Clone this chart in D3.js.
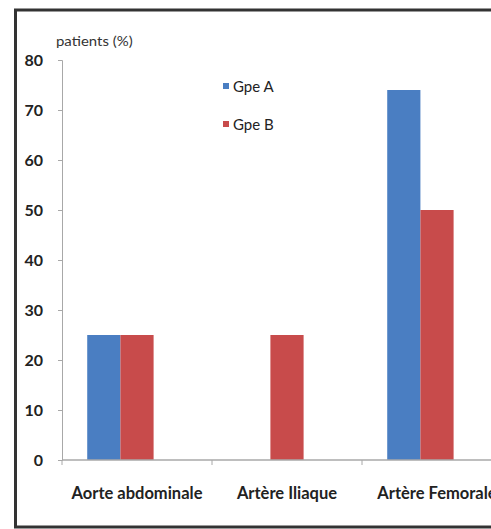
<!DOCTYPE html>
<html>
<head>
<meta charset="utf-8">
<script src="https://cdn.jsdelivr.net/npm/d3@7"></script>
<style>
  html, body { margin: 0; padding: 0; background: #fff; }
  svg { display: block; }
</style>
</head>
<body>
<svg id="chart" width="491" height="529"></svg>
<script>
// ---- data ----
const categories = ["Aorte abdominale", "Artère Iliaque", "Artère Femorale"];
const seriesNames = ["Gpe A", "Gpe B", "Gpe C"];
const gpeA = [25, 0, 74];
const gpeB = [25, 25, 50];
const gpeC = [null, null, null]; // empty third slot in the original chart
const yTicks = [0, 10, 20, 30, 40, 50, 60, 70, 80];
const yLabel = "patients (%)";
const legendNames = ["Gpe A", "Gpe B"];
const colors = { "Gpe A": "#4a7ec2", "Gpe B": "#c84b4b", "Gpe C": "#9bbb59" };

const seriesValues = { "Gpe A": gpeA, "Gpe B": gpeB, "Gpe C": gpeC };

const svg = d3.select("#chart");
const font = "Lato, 'Open Sans', sans-serif";

// outer frame
svg.append("rect")
  .attr("x", 15.5).attr("y", 10).attr("width", 520).attr("height", 517)
  .attr("fill", "#fff").attr("stroke", "#333").attr("stroke-width", 3);

const plot = { left: 62, top: 60, right: 512, bottom: 460 };

const x0 = d3.scaleBand().domain(categories).range([plot.left, plot.right]).paddingInner(0).paddingOuter(0);
const x1 = d3.scaleBand().domain(seriesNames).range([0, x0.bandwidth()]).paddingOuter(0.76).paddingInner(0);
const y = d3.scaleLinear().domain([0, 80]).range([plot.bottom, plot.top]);

// bars
const g = svg.append("g");
categories.forEach((c, i) => {
  seriesNames.forEach(s => {
    const v = seriesValues[s][i];
    if (v == null || v === 0) return;
    g.append("rect")
      .attr("x", x0(c) + x1(s))
      .attr("y", y(v))
      .attr("width", x1.bandwidth())
      .attr("height", y(0) - y(v))
      .attr("fill", colors[s]);
  });
});

// y axis
const yAxis = d3.axisLeft(y).tickValues(yTicks).tickSize(4).tickPadding(10);
const ya = svg.append("g").attr("transform", `translate(${plot.left},0)`).call(yAxis);
ya.select(".domain").attr("stroke", "#a8a8a8");
ya.selectAll(".tick line").attr("stroke", "#a8a8a8");
ya.selectAll(".tick text")
  .attr("font-family", font).attr("font-weight", "bold").attr("font-size", 16)
  .attr("fill", "#222").attr("dx", -5);

// x axis
const xa = svg.append("g").attr("transform", `translate(0,${plot.bottom})`);
xa.append("line").attr("x1", plot.left).attr("x2", plot.right).attr("y1", 0).attr("y2", 0)
  .attr("stroke", "#a8a8a8").attr("stroke-width", 1.5);
const bounds = categories.map(c => x0(c)).concat([x0(categories[categories.length - 1]) + x0.bandwidth()]);
xa.selectAll("line.tk").data(bounds).enter().append("line")
  .attr("class", "tk").attr("x1", d => d).attr("x2", d => d).attr("y1", 0).attr("y2", 5)
  .attr("stroke", "#a8a8a8");
xa.selectAll("text").data(categories).enter().append("text")
  .attr("x", d => x0(d) + x0.bandwidth() / 2)
  .attr("y", 39)
  .attr("text-anchor", "middle")
  .attr("font-family", font).attr("font-weight", "bold").attr("font-size", 16.5)
  .attr("fill", "#222")
  .text(d => d);

// y label
svg.append("text").attr("x", 56).attr("y", 46)
  .attr("font-family", font).attr("font-size", 13).attr("fill", "#333")
  .attr("transform", "translate(56,0) scale(1.15,1) translate(-56,0)")
  .text(yLabel);

// legend
const lg = svg.append("g").attr("transform", "translate(223,82)");
legendNames.forEach((n, i) => {
  const row = lg.append("g").attr("transform", `translate(0,${i * 38})`);
  row.append("rect").attr("x", 0).attr("y", 1).attr("width", 6).attr("height", 6).attr("fill", colors[n]);
  row.append("text").attr("x", 10).attr("y", 10)
    .attr("font-family", font).attr("font-size", 15).attr("fill", "#222")
    .text(n);
});
</script>
</body>
</html>
